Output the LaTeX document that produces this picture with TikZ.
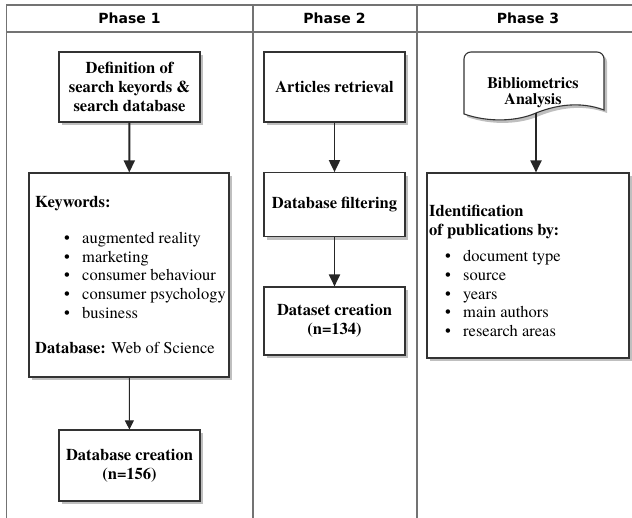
\documentclass[tikz,border=0pt]{standalone}
\usepackage{fontspec}
\setmainfont{texgyretermes}[Extension=.otf,UprightFont=*-regular,BoldFont=*-bold,ItalicFont=*-italic,BoldItalicFont=*-bolditalic]
\newfontfamily\hdrfont{DejaVu Sans}
\usetikzlibrary{arrows.meta,shadows}
\begin{document}
\begin{tikzpicture}[x=1pt,y=-1pt,
  frame/.style={draw=black!55,line width=1.6pt},
  shad/.style={drop shadow={shadow xshift=3pt,shadow yshift=-3pt,fill=black!25,opacity=1}},
  box/.style={draw=black!80,line width=1.1pt,fill=white,shad,inner sep=0pt,align=center,
    font=\fontsize{16.5}{19}\selectfont\bfseries},
  hdr/.style={font=\hdrfont\bfseries\fontsize{14}{16}\selectfont,inner sep=0pt},
  ln/.style={inner sep=0pt,anchor=base west,font=\fontsize{16.5}{19}\selectfont},
  bigarrow/.style={-{Triangle[width=11pt,length=12pt]},line width=1.9pt,draw=black!85},
  thinarrow/.style={-{Triangle[width=9pt,length=9pt]},line width=1pt,draw=black!85}
]
\useasboundingbox (0,0) rectangle (632,518);
% frame
\draw[frame] (6.5,518) -- (6.5,5) -- (632,5);
\draw[frame] (6.5,32) -- (632,32);
\draw[frame] (252.7,5) -- (252.7,518);
\draw[frame] (416.7,5) -- (416.7,518);
\node[hdr] (h1) at (129.5,18.5) {Phase 1};
\node[hdr] (h2) at (334.5,18.5) {Phase 2};
\node[hdr] (h3) at (528,18.5) {Phase 3};

% Phase 1
\node[box,minimum width=141pt,minimum height=70pt] (def) at (129.5,87)
  {Definition of\\search keyords \&\\search database};
\node[box,minimum width=200pt,minimum height=204pt] (kw) at (129,275) {};
\node[ln,font=\fontsize{16.5}{19}\selectfont\bfseries] (k0) at (35,208) {Keywords:};
\foreach \t [count=\i] in {augmented reality,marketing,consumer behaviour,consumer psychology,business}{
  \node[ln] (kb\i) at (64,{243.5+18.7*(\i-1)}) {\textbullet};
  \node[ln] (k\i) at (82,{243.5+18.7*(\i-1)}) {\t};
}
\node[ln] (k6) at (35,354) {\textbf{Database:} Web of Science};
\node[box,minimum width=141pt,minimum height=71pt] (dbc) at (129.5,465.5)
  {Database creation\\(n=156)};
\draw[bigarrow] (def) -- (kw);
\draw[thinarrow] (kw) -- (dbc);

% Phase 2
\node[box,minimum width=141pt,minimum height=70pt] (art) at (334.5,87) {Articles retrieval};
\node[box,minimum width=141pt,minimum height=64pt] (dbf) at (334.5,204.7) {Database filtering};
\node[box,minimum width=141pt,minimum height=68pt] (dsc) at (334.5,321) {Dataset creation\\(n=134)};
\draw[bigarrow] (art) -- (dbf);
\draw[bigarrow] (dbf) -- (dsc);

% Phase 3
\draw[draw=black!80,line width=1.1pt,fill=white,shad]
  (464,114) [rounded corners=7pt] -- (464,52) -- (604,52) [sharp corners] -- (604,110)
  .. controls (580,101) and (556,105) .. (536,113)
  .. controls (518,121) and (490,123) .. (464,114) -- cycle;
\node[inner sep=0pt,align=center,font=\fontsize{16}{16.5}\selectfont\bfseries] (bib) at (533,92.5)
  {Bibliometrics\\Analysis};
\coordinate (bibbot) at (536,113);
\node[box,minimum width=202pt,minimum height=185pt] (idb) at (528,265.5) {};
\draw[bigarrow] (bibbot) -- (bibbot |- idb.north);
\node[ln,font=\fontsize{16.5}{19}\selectfont\bfseries] (i0) at (429,217) {Identification};
\node[ln,font=\fontsize{16.5}{19}\selectfont\bfseries] (i1) at (429,236) {of publications by:};
\foreach \t [count=\i] in {document type,source,years,main authors,research areas}{
  \node[ln] (ib\i) at (445,{262+18.6*(\i-1)}) {\textbullet};
  \node[ln] (it\i) at (463,{262+18.6*(\i-1)}) {\t};
}
\end{tikzpicture}
\end{document}
